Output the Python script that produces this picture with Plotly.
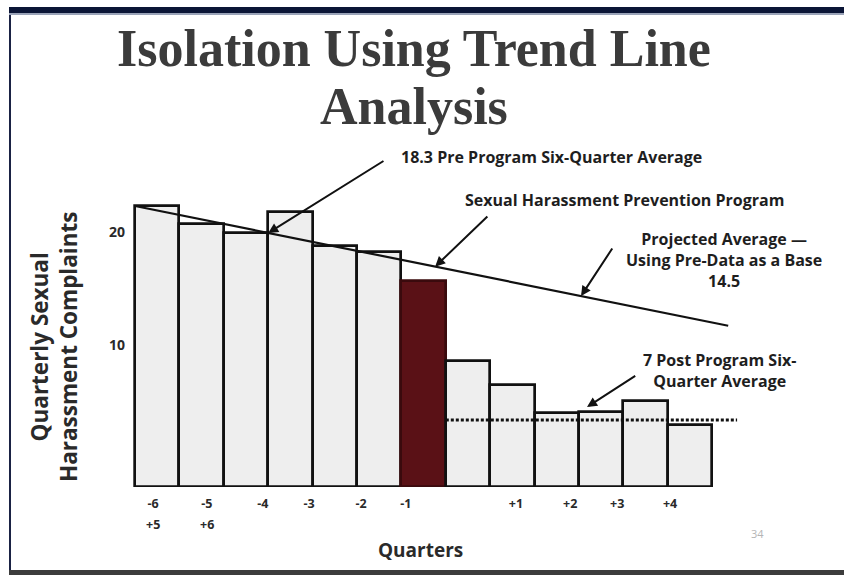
import plotly.graph_objects as go

# Quarterly complaint counts, six quarters before the program, the program
# quarter itself, then six quarters after it.
complaints = [22.3, 20.7, 19.9, 21.8, 18.8, 18.2, 15.7, 8.6, 6.5, 4.0, 4.1, 5.0, 2.9]
is_program_quarter = [False] * 6 + [True] + [False] * 6

# Quarter labels under the bars (second row only under the first two slots)
quarter_labels = ["-6", "-5", "-4", "-3", "-2", "-1", "+1", "+2", "+3", "+4"]
quarter_labels_row2 = ["+5", "+6"]
quarter_label_pos = [-0.095, 1.12, 2.38, 3.42, 4.59, 5.6, 8.08, 9.3, 10.36, 11.55]

# Trend line projected from the pre-program quarters (start and end)
trend_x = [-0.5, 12.86]
trend_y = [22.3, 11.7]

# Post-program average level (dotted line) and its span
post_avg_x = [6.5, 13.06]
post_avg_y = 3.36

y_ticks = [10, 20]
y_floor = -2.57
y_top = 27.26

W, H = 844, 576
M_L, M_R, M_T, M_B = 126, 84, 150, 89
PW, PH = W - M_L - M_R, H - M_T - M_B


def px(x):
    return (x - M_L) / PW


def py(y):
    return (H - M_B - y) / PH


def trend_at(x):
    t = (x - trend_x[0]) / (trend_x[1] - trend_x[0])
    return trend_y[0] + t * (trend_y[1] - trend_y[0])


bar_colors = ["#5a1116" if p else "#eeeeee" for p in is_program_quarter]
line_colors = ["#3a0a0d" if p else "#111111" for p in is_program_quarter]
x_idx = list(range(len(complaints)))

fig = go.Figure()

fig.add_trace(go.Bar(
    x=x_idx,
    y=[v - y_floor for v in complaints],
    base=[y_floor] * len(complaints),
    width=1.0,
    marker=dict(color=bar_colors, line=dict(color=line_colors, width=2.7)),
    hoverinfo="skip",
    showlegend=False,
))

fig.add_trace(go.Scatter(
    x=trend_x, y=trend_y, mode="lines",
    line=dict(color="#111111", width=2.2),
    hoverinfo="skip", showlegend=False,
))

fig.add_trace(go.Scatter(
    x=post_avg_x, y=[post_avg_y, post_avg_y], mode="lines",
    line=dict(color="#111111", width=3, dash="3px,2px"),
    hoverinfo="skip", showlegend=False,
))

ann_font = dict(family="Open Sans", size=16, color="#1e1e1e", weight="bold")


def arrow(tip_x, tip_y, tail_x, tail_y):
    fig.add_annotation(
        x=tip_x, y=tip_y, xref="x", yref="y",
        ax=tail_x, ay=tail_y, axref="x", ayref="y",
        showarrow=True, arrowhead=2, arrowsize=1.0, arrowwidth=2,
        arrowcolor="#111111", text="",
    )


def label(text, cx, cy, font=None):
    fig.add_annotation(
        x=px(cx), y=py(cy), xref="paper", yref="paper", text=text,
        showarrow=False, font=font or ann_font, align="center",
        xanchor="center", yanchor="middle",
    )


arrow(2.5, trend_at(2.5), 5.13, 26.37)
label("18.3 Pre Program Six-Quarter Average", 551, 157)

arrow(6.26, trend_at(6.26), 7.47, 21.5)
label("Sexual Harassment Prevention Program", 624, 200)

arrow(9.545, trend_at(9.545), 10.27, 18.67)
label("Projected Average —<br>Using Pre-Data as a Base<br>14.5", 724, 260)

arrow(9.68, 4.51, 10.8, 7.35)
label("7 Post Program Six-<br>Quarter Average", 719, 370)

# Second row of quarter labels
for lab, pos in zip(quarter_labels_row2, quarter_label_pos):
    fig.add_annotation(
        x=pos, y=py(524), xref="x", yref="paper", text=lab, showarrow=False,
        font=dict(family="Open Sans", size=12.5, color="#2a2a2a", weight="bold"),
        xanchor="center", yanchor="middle",
    )

# Slide frame: navy header rule, left rule, footer band
frame = [
    (9, W + 40, 7, 13, "#0b1536"),
    (9, W + 40, 13, 15, "#9aa3b8"),
    (9, 11, 15, 570, "#1a2244"),
    (9, W + 40, 570, 575, "#3c3c3c"),
]
for x0, x1, y0, y1, c in frame:
    fig.add_shape(type="rect", xref="paper", yref="paper", layer="above",
                  x0=px(x0), x1=px(x1), y0=py(y1), y1=py(y0),
                  fillcolor=c, line_width=0)

# Slide title, two lines
title_font = dict(family="Liberation Serif", size=52, color="#3b3b3b", weight="bold")
label("Isolation Using Trend Line", 414, 48, title_font)
label("Analysis", 414, 107, title_font)

# Axis titles
label("Quarters", 420, 550, dict(family="Open Sans", size=19, color="#2a2a2a", weight="bold"))
fig.add_annotation(
    x=px(54), y=py(347), xref="paper", yref="paper", showarrow=False,
    text="Quarterly Sexual<br>Harassment Complaints", textangle=-90,
    font=dict(family="Open Sans", size=22.5, color="#2a2a2a", weight="bold"),
    xanchor="center", yanchor="middle",
)

# Slide number
fig.add_annotation(
    x=px(766), y=py(543), xref="paper", yref="paper", showarrow=False, text="34",
    font=dict(family="Open Sans", size=11, color="#b5b5b5"),
)

fig.update_layout(
    width=W, height=H,
    margin=dict(l=M_L, r=M_R, t=M_T, b=M_B),
    paper_bgcolor="white", plot_bgcolor="white",
    bargap=0,
    font=dict(family="Open Sans", color="#222222"),
    xaxis=dict(
        range=[-0.7027, 13.576],
        tickmode="array", tickvals=quarter_label_pos, ticktext=quarter_labels,
        tickfont=dict(family="Open Sans", size=12.5, color="#2a2a2a", weight="bold"),
        ticklabelstandoff=7,
        showgrid=False, zeroline=False, showline=False, ticks="",
    ),
    yaxis=dict(
        range=[y_floor, y_top],
        tickmode="array", tickvals=y_ticks,
        tickfont=dict(family="Open Sans", size=14, color="#2a2a2a", weight="bold"),
        showgrid=False, zeroline=False, showline=False, ticks="",
    ),
)

fig.write_html("out.html")
